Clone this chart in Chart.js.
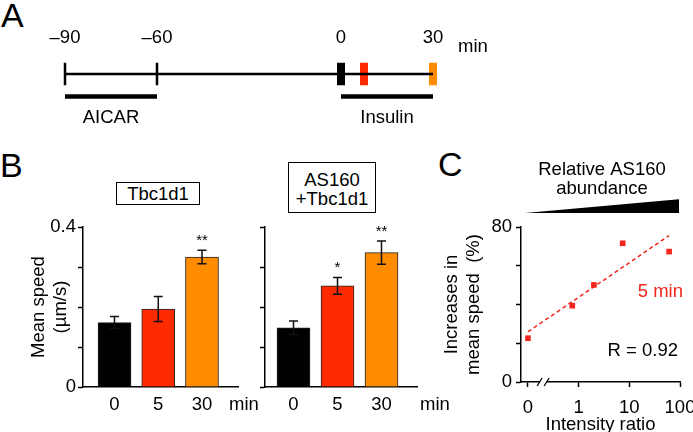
<!DOCTYPE html>
<html>
<head>
<meta charset="utf-8">
<script src="https://cdn.jsdelivr.net/npm/chart.js@4.4.0/dist/chart.umd.min.js"></script>
<style>
  body { margin: 0; width: 693px; height: 432px; overflow: hidden; background: #fff; position: relative;
         font-family: 'Liberation Sans', Arial, sans-serif; color: #000; }
  canvas { position: absolute; }
  .panel { position: absolute; font-size: 34px; line-height: 34px; }
  .box { position: absolute; border: 1.5px solid #000; box-sizing: border-box; text-align: center;
         font-size: 18.5px; line-height: 19px; }
</style>
</head>
<body>
<div class="panel" style="left:1px;top:-2px">A</div>
<div class="panel" style="left:0px;top:148px">B</div>
<div class="panel" style="left:438px;top:147px">C</div>
<div class="box" style="left:116px;top:182px;width:84px;height:23px;padding-top:1px">Tbc1d1</div>
<div class="box" style="left:288px;top:162px;width:88px;height:51px;padding-top:7px">AS160<br>+Tbc1d1</div>

<canvas id="timeline" width="520" height="140" style="left:0;top:0"></canvas>
<canvas id="speedTbc" width="262" height="215" style="left:0;top:210px"></canvas>
<canvas id="speedAs" width="215" height="215" style="left:240px;top:210px"></canvas>
<canvas id="ratioChart" width="260" height="290" style="left:440px;top:150px"></canvas>

<script>
// panel A: protocol timeline (min)
const timeTicks = [-90, -60, 0, 30];
const aicarPeriod = [-90, -60];
const insulinPeriod = [0, 30];
const sampleTimes = [0, 7.5, 30];
const sampleColors = ['#000000', '#ff2a00', '#ff8c00'];

// panel B: mean speed (um/s)
const timePoints = ['0', '5', '30'];
const speedTicks = [0, 0.1, 0.2, 0.3, 0.4];
const tbcSpeed = [0.161, 0.195, 0.325];
const tbcSem = [0.015, 0.031, 0.017];
const tbcStars = ['', '', '**'];
const asSpeed = [0.148, 0.253, 0.336];
const asSem = [0.017, 0.021, 0.029];
const asStars = ['', '*', '**'];

// panel C: increase in mean speed vs intensity ratio
const intensityRatio = [0, 0.75, 2, 7.4, 61];
const speedIncrease = [22.6, 39.4, 50.1, 71.6, 67.3];
const fitRatio = [0, 61];
const fitIncrease = [25.9, 75.6];
const ratioTicks = [0, 1, 10, 100];
const increaseTicks = [0, 20, 40, 60, 80];

const FONT = "'Liberation Sans', Arial, sans-serif";
const RED = '#f2261c';
Chart.defaults.font.family = FONT;
Chart.defaults.font.size = 18.5;
Chart.defaults.color = '#000';
Chart.defaults.animation = false;
Chart.defaults.events = [];
Chart.defaults.plugins.legend.display = false;
Chart.defaults.plugins.tooltip.enabled = false;

function seg(x1, y1, x2, y2) {
  return [{x: x1, y: y1}, {x: x2, y: y2}];
}
function lineSet(data, color, width) {
  return {data: data, borderColor: color, borderWidth: width, pointRadius: 0,
          borderCapStyle: 'butt', clip: false, fill: false};
}

// ---- A ----
const tlSets = [lineSet(seg(timeTicks[0], 0, timeTicks[3], 0), '#000', 2.5)];
aicarPeriod.forEach(t => tlSets.push(lineSet(seg(t, -0.5, t, 0.5), '#000', 2.5)));
sampleTimes.forEach((t, i) => tlSets.push(lineSet(seg(t, -0.5, t, 0.5), sampleColors[i], 8)));
tlSets.push(lineSet(seg(aicarPeriod[0], -1, aicarPeriod[1], -1), '#000', 4.5));
tlSets.push(lineSet(seg(insulinPeriod[0], -1, insulinPeriod[1], -1), '#000', 4.5));

const timelineText = {
  id: 'timelineText',
  afterDraw(chart) {
    const ctx = chart.ctx, x = chart.scales.x, y = chart.scales.y;
    ctx.save();
    ctx.font = '18.5px ' + FONT;
    ctx.fillStyle = '#000';
    ctx.textAlign = 'center';
    ctx.textBaseline = 'middle';
    ctx.fillText('AICAR', x.getPixelForValue((aicarPeriod[0] + aicarPeriod[1]) / 2), y.getPixelForValue(-1.93));
    ctx.fillText('Insulin', x.getPixelForValue((insulinPeriod[0] + insulinPeriod[1]) / 2), y.getPixelForValue(-1.93));
    ctx.fillText('min', x.getPixelForValue(30) + 40, x.bottom - 3 - 10.8);
    ctx.restore();
  }
};

new Chart(document.getElementById('timeline'), {
  type: 'line',
  data: {datasets: tlSets},
  options: {
    responsive: false,
    layout: {padding: {left: 65, right: 87, top: 0, bottom: 12}},
    scales: {
      x: {
        type: 'linear', position: 'top', min: -90, max: 30,
        afterBuildTicks: s => { s.ticks = timeTicks.map(v => ({value: v})); },
        afterFit: s => { s.height = 60.5; s.paddingLeft = 0; s.paddingRight = 0; },
        grid: {display: false}, border: {display: false},
        ticks: {padding: 3, callback: v => v < 0 ? '\u2013' + Math.abs(v) : String(v)}
      },
      y: {display: false, min: -2.4, max: 0.6}
    }
  },
  plugins: [timelineText]
});

// ---- B ----
const errorBars = {
  id: 'errorBars',
  afterDatasetsDraw(chart, args, opts) {
    const ctx = chart.ctx, x = chart.scales.x, y = chart.scales.y;
    const meta = chart.getDatasetMeta(0);
    ctx.save();
    ctx.strokeStyle = '#111';
    ctx.lineWidth = 1.5;
    meta.data.forEach((bar, i) => {
      const top = y.getPixelForValue(opts.values[i] + opts.sem[i]);
      const bot = y.getPixelForValue(opts.values[i] - opts.sem[i]);
      ctx.beginPath();
      ctx.moveTo(bar.x, top); ctx.lineTo(bar.x, bot);
      ctx.moveTo(bar.x - 4.5, top); ctx.lineTo(bar.x + 4.5, top);
      ctx.moveTo(bar.x - 4.5, bot); ctx.lineTo(bar.x + 4.5, bot);
      ctx.stroke();
      if (opts.stars[i]) {
        ctx.font = '15px ' + FONT;
        ctx.fillStyle = '#000';
        ctx.textAlign = 'center';
        ctx.textBaseline = 'alphabetic';
        ctx.fillText(opts.stars[i], bar.x, top - 5);
      }
    });
    ctx.font = '18.5px ' + FONT;
    ctx.fillStyle = '#000';
    ctx.textAlign = 'center';
    ctx.textBaseline = 'middle';
    ctx.fillText('min', x.right + opts.minOffset, x.top + 7 + 10.8);
    ctx.restore();
  }
};

function speedChart(id, values, sem, stars, cfg) {
  new Chart(document.getElementById(id), {
    type: 'bar',
    data: {
      datasets: [{
        data: values.map((v, i) => ({x: i, y: v})),
        backgroundColor: sampleColors,
        borderColor: '#222',
        borderWidth: 1,
        barThickness: 33
      }]
    },
    options: {
      responsive: false,
      layout: {padding: {left: 0, right: cfg.rightPad, top: 17, bottom: 0}},
      plugins: {errorBars: {values: values, sem: sem, stars: stars, minOffset: cfg.minOffset}},
      scales: {
        x: {
          type: 'linear', min: cfg.xMin, max: cfg.xMax, offset: false,
          afterBuildTicks: s => { s.ticks = timePoints.map((t, i) => ({value: i})); },
          afterFit: s => { s.height = 38; s.paddingLeft = 0; s.paddingRight = 0; },
          grid: {display: false, drawTicks: false},
          border: {color: '#000', width: 1.5},
          ticks: {padding: 7, callback: v => timePoints[v]}
        },
        y: {
          min: 0, max: 0.4,
          afterBuildTicks: s => { s.ticks = speedTicks.map(v => ({value: v})); },
          afterFit: s => { s.width = cfg.yWidth; },
          grid: {drawOnChartArea: false, tickLength: 5, color: '#000', tickWidth: 1.5},
          border: {color: '#000', width: 1.5},
          ticks: {padding: 2, callback: v => (cfg.labels && (v === 0 || v === 0.4)) ? String(v) : ''},
          title: {
            display: cfg.labels, text: ['Mean speed', '(\u00b5m/s)'],
            font: {size: 18.5, lineHeight: 1.2}, padding: {top: 28, bottom: 0}
          }
        }
      }
    },
    plugins: [errorBars]
  });
}

speedChart('speedTbc', tbcSpeed, tbcSem, tbcStars,
  {xMin: -0.72, xMax: 2.823, yWidth: 83, rightPad: 24, minOffset: 6, labels: true});
speedChart('speedAs', asSpeed, asSem, asStars,
  {xMin: -0.648, xMax: 2.807, yWidth: 25, rightPad: 38, minOffset: 18, labels: false});

// ---- C ----
// "0" sits one decade left of 1 after the axis break, the rest is log10
function ratioPos(r) {
  return r === 0 ? -1 : Math.log10(r);
}

const ratioDecor = {
  id: 'ratioDecor',
  afterDraw(chart) {
    const ctx = chart.ctx, x = chart.scales.x, y = chart.scales.y, a = chart.chartArea;
    ctx.save();
    // abundance wedge
    ctx.fillStyle = '#000';
    ctx.beginPath();
    ctx.moveTo(a.left + 4, a.top - 14);
    ctx.lineTo(a.right - 1, a.top - 27.7);
    ctx.lineTo(a.right - 1, a.top - 14);
    ctx.closePath();
    ctx.fill();
    ctx.font = '18.5px ' + FONT;
    ctx.textAlign = 'center';
    ctx.textBaseline = 'middle';
    const cx = (a.left + a.right) / 2 + 1.5;
    ctx.fillText('Relative AS160', cx, 20.4);
    ctx.fillText('abundance', cx, 39.4);
    // axis break
    const bx = x.getPixelForValue(-0.7), by = y.bottom;
    ctx.fillStyle = '#fff';
    ctx.fillRect(bx - 3.5, by - 2, 7, 4);
    ctx.strokeStyle = '#000';
    ctx.lineWidth = 1.3;
    ctx.beginPath();
    ctx.moveTo(bx - 6, by + 4); ctx.lineTo(bx - 1, by - 4);
    ctx.moveTo(bx + 1, by + 4); ctx.lineTo(bx + 6, by - 4);
    ctx.stroke();
    // annotations
    ctx.textAlign = 'right';
    ctx.fillStyle = RED;
    ctx.fillText('5 min', a.right + 3, y.getPixelForValue(46.3));
    ctx.fillStyle = '#000';
    ctx.fillText('R = 0.92', a.right - 2, y.getPixelForValue(16));
    ctx.restore();
  }
};

new Chart(document.getElementById('ratioChart'), {
  type: 'scatter',
  data: {
    datasets: [
      {
        data: intensityRatio.map((r, i) => ({x: ratioPos(r), y: speedIncrease[i]})),
        pointStyle: 'rect', pointRadius: 4, backgroundColor: RED, borderColor: RED, borderWidth: 0,
        clip: false
      },
      {
        type: 'line',
        data: fitRatio.map((r, i) => ({x: ratioPos(r), y: fitIncrease[i]})),
        borderColor: RED, borderWidth: 1.5, borderDash: [4, 3], pointRadius: 0, clip: false
      }
    ]
  },
  options: {
    responsive: false,
    layout: {padding: {left: 0, right: 20, top: 77, bottom: 0}},
    scales: {
      x: {
        type: 'linear', min: -1.137, max: 2,
        afterBuildTicks: s => { s.ticks = ratioTicks.map(r => ({value: ratioPos(r)})); },
        afterFit: s => { s.height = 58; s.paddingLeft = 0; s.paddingRight = 0; },
        grid: {drawOnChartArea: false, tickLength: 5, color: '#000', tickWidth: 1.5},
        border: {color: '#000', width: 1.5},
        ticks: {padding: 10, callback: (v, i) => String(ratioTicks[i])},
        title: {display: true, text: 'Intensity ratio', font: {size: 18.5, lineHeight: 1.2},
                padding: {top: 0, bottom: 4}}
      },
      y: {
        min: 0, max: 80,
        afterBuildTicks: s => { s.ticks = increaseTicks.map(v => ({value: v})); },
        afterFit: s => { s.width = 81; },
        grid: {drawOnChartArea: false, tickLength: 5, color: '#000', tickWidth: 1.5},
        border: {color: '#000', width: 1.5},
        ticks: {padding: 4, callback: v => (v === 0 || v === 80) ? String(v) : ''},
        title: {display: true, text: ['Increases in', 'mean speed  (%)'],
                font: {size: 18.5, lineHeight: 1.2}, padding: {top: 1, bottom: 0}}
      }
    }
  },
  plugins: [ratioDecor]
});
</script>
</body>
</html>
